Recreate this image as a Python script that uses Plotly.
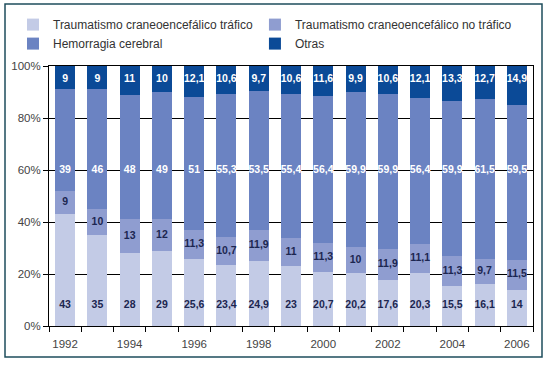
import plotly.graph_objects as go

years = list(range(1992, 2007))
tce_trafico = [43, 35, 28, 29, 25.6, 23.4, 24.9, 23, 20.7, 20.2, 17.6, 20.3, 15.5, 16.1, 14]
tce_no_trafico = [9, 10, 13, 12, 11.3, 10.7, 11.9, 11, 11.3, 10, 11.9, 11.1, 11.3, 9.7, 11.5]
hemorragia = [39, 46, 48, 49, 51, 55.3, 53.5, 55.4, 56.4, 59.9, 59.9, 56.4, 59.9, 61.5, 59.5]
otras = [9, 9, 11, 10, 12.1, 10.6, 9.7, 10.6, 11.6, 9.9, 10.6, 12.1, 13.3, 12.7, 14.9]
y_ticks = [0, 20, 40, 60, 80, 100]
y_ticklabels = ["0%", "20%", "40%", "60%", "80%", "100%"]
x_ticks = [1992, 1994, 1996, 1998, 2000, 2002, 2004, 2006]

names = ["Traumatismo craneoencefálico tráfico", "Traumatismo craneoencefálico no tráfico",
         "Hemorragia cerebral", "Otras"]
series = [tce_trafico, tce_no_trafico, hemorragia, otras]
colors = ["#c3cbe6", "#8f9dd0", "#6b83c2", "#0b4a97"]
text_colors = ["#1c2650", "#1c2650", "#ffffff", "#ffffff"]
legend_ids = ["legend", "legend2", "legend", "legend2"]

def fmt(v):
    return ("%g" % v).replace(".", ",")

fig = go.Figure()
for i, (name, vals, col) in enumerate(zip(names, series, colors)):
    fig.add_trace(go.Bar(x=years, y=vals, name=name, legend=legend_ids[i], legendgroup="g%d" % i,
                         marker=dict(color=col, line=dict(width=0)),
                         width=0.62, hoverinfo="skip"))

# label positions
label_y = [
    [8] * len(years),
    [a + b / 2 for a, b in zip(tce_trafico, tce_no_trafico)],
    [60] * len(years),
    [95] * len(years),
]
for i, vals in enumerate(series):
    fig.add_trace(go.Scatter(x=years, y=label_y[i], mode="text", text=[fmt(v) for v in vals],
                             textfont=dict(family="Liberation Sans Narrow, Liberation Sans",
                                           size=10.5, color=text_colors[i], weight="bold"),
                             showlegend=False, hoverinfo="skip", cliponaxis=False))

fig.add_shape(type="rect", xref="paper", yref="paper", x0=-0.0909, x1=1.0186, y0=-0.119, y1=1.2385,
              line=dict(color="#1e4d5c", width=1.5), layer="above")

leg_common = dict(orientation="v", xanchor="left", yanchor="top", y=1.215,
                  font=dict(family="Liberation Sans", size=12, color="#333333"),
                  bgcolor="rgba(0,0,0,0)", traceorder="normal", tracegroupgap=3)

fig.update_layout(
    width=548, height=384,
    margin=dict(l=49, r=15, t=66, b=58, autoexpand=False),
    barmode="stack",
    plot_bgcolor="white", paper_bgcolor="white",
    font=dict(family="Liberation Sans", size=11, color="#444444"),
    showlegend=True,
    legend=dict(x=-0.0744, **leg_common),
    legend2=dict(x=0.4255, **leg_common),
    xaxis=dict(range=[1991.5, 2006.5], tickvals=x_ticks,
               ticks="", showgrid=False, showline=True, linecolor="black", linewidth=1, mirror=True,
               minor=dict(tick0=1991.5, dtick=1, ticks="outside", ticklen=5, tickcolor="black",
                          showgrid=False),
               ticklabelstandoff=7,
               tickfont=dict(size=11.5, color="#444444"), zeroline=False),
    yaxis=dict(range=[0, 100], tickvals=y_ticks, ticktext=y_ticklabels,
               ticks="outside", ticklen=5, tickcolor="black", showline=True, linecolor="black",
               linewidth=1, mirror=True, showgrid=True, gridcolor="black", gridwidth=1,
               zeroline=False, tickfont=dict(size=11.5, color="#444444")),
)

fig.write_html("out.html", config={"displayModeBar": False},
               post_script="document.body.style.margin='0px';")
